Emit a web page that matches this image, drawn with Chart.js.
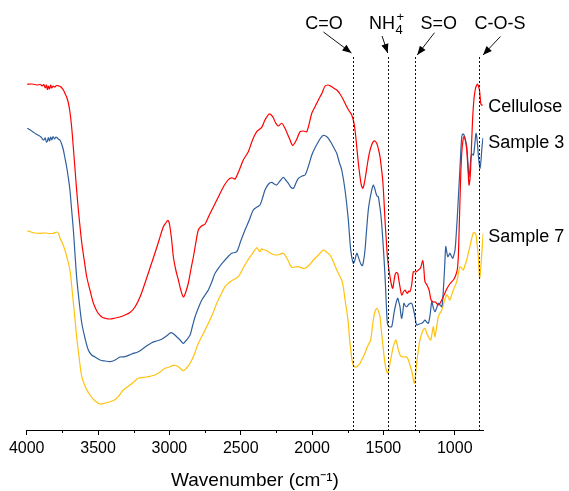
<!DOCTYPE html>
<html>
<head>
<meta charset="utf-8">
<script src="https://cdn.jsdelivr.net/npm/chart.js@4.4.1/dist/chart.umd.min.js"></script>
<style>
html,body{margin:0;padding:0;background:#fff;}
#wrap{width:569px;height:491px;position:relative;}
</style>
</head>
<body>
<div id="wrap"><canvas id="c" width="569" height="491"></canvas></div>
<script>
// ---- Data (wavenumber in cm-1, relative transmittance in arbitrary offset units) ----
const celluloseWn = [3996,3960,3930,3905,3890,3880,3870,3862,3855,3848,3840,3832,3825,3815,3805,3790,3775,3760,3743,3730,3720,3708,3697,3685,3673,3661,3650,3638,3626,3614,3597,3579,3555,3533,3505,3474,3445,3416,3380,3346,3311,3276,3241,3206,3171,3136,3101,3072,3043,3025,3012,3003,2996,2984,2972,2955,2937,2920,2902,2885,2867,2850,2832,2815,2797,2775,2750,2720,2692,2657,2622,2600,2575,2558,2540,2510,2482,2447,2420,2388,2353,2330,2300,2276,2255,2237,2213,2190,2160,2136,2110,2084,2060,2037,2002,1980,1956,1930,1909,1890,1874,1850,1827,1804,1780,1757,1740,1722,1706,1695,1687,1675,1664,1655,1645,1635,1622,1610,1599,1585,1571,1560,1547,1535,1524,1515,1505,1497,1489,1480,1472,1463,1454,1445,1435,1427,1419,1410,1400,1392,1384,1372,1360,1349,1340,1332,1322,1314,1302,1290,1272,1255,1240,1224,1216,1209,1195,1180,1166,1150,1136,1113,1091,1075,1056,1035,1010,998,986,980,975,970,964,958,951,943,935,925,916,908,900,894,888,881,874,866,857,849,841,834,827,822,818,812,804];
const celluloseT = [345.7,346,345,345.5,344,345.5,342,345,340.5,344,341,345,342,344,343,344.5,344,343,340,336,333,327,318,303,282,260,240,220,203,187,170,153,139,127,118,113,111.5,111,112,113,115,117.5,123,133,147,162,177,190,203,207,209.5,208,203,190,173,160,150,140,133,138,147,160,173,187,200,204,206,215,223,233,243,248,251.7,252,251,260,270,278.3,289,298.3,302.7,310,316,313.3,307,304,306.7,301.7,292,284.7,290,298.3,299,298.3,316.7,323,330,337,344,345,344.3,342,340,336,330,323.3,319,315,306.7,295,283.3,266,253.3,245,241.7,246,256.7,268,276.7,284,288.3,289,286.7,281,273.3,263,250,232,210,190,173.3,162,153.3,146,141.7,148,155,157.5,156.7,150,143.3,135,138,140,138,136.7,139,138.3,145,158.3,158,160,162,169.3,160,148.3,145,140,130,128,128,125,130,135,141,146,150,153,158,163,173.3,197,226.7,255,276.7,289,293.3,289,280,262,245,250,263.3,290,313.3,330,340,344,346,344,340,333,326.7,325,325];

const sample3Wn = [3996,3975,3955,3935,3915,3900,3890,3880,3870,3862,3855,3848,3840,3832,3824,3815,3805,3795,3785,3775,3767,3755,3743,3732,3720,3708,3697,3685,3673,3661,3650,3632,3614,3590,3568,3545,3521,3486,3450,3416,3380,3346,3311,3265,3218,3170,3124,3090,3054,3020,2989,2970,2949,2925,2902,2880,2855,2838,2820,2797,2773,2750,2727,2703,2680,2645,2610,2585,2563,2528,2500,2470,2440,2412,2385,2365,2345,2330,2305,2283,2265,2248,2225,2201,2185,2166,2150,2131,2113,2096,2070,2049,2025,2002,1980,1956,1940,1921,1900,1886,1865,1839,1827,1810,1792,1769,1746,1729,1711,1700,1687,1678,1669,1658,1648,1638,1629,1618,1606,1597,1589,1580,1571,1562,1552,1545,1536,1528,1519,1510,1501,1492,1484,1478,1472,1465,1458,1450,1442,1434,1426,1413,1400,1392,1384,1378,1372,1364,1356,1346,1337,1320,1302,1290,1279,1267,1250,1232,1220,1209,1197,1185,1173,1161,1150,1139,1127,1115,1103,1091,1085,1080,1072,1063,1056,1049,1041,1034,1024,1014,1006,998,990,982,975,968,960,951,943,935,925,916,908,900,893,886,878,869,860,851,842,834,828,823,816,809,802];
const sample3T = [301.7,300,298,296,294.5,293,291,290,292,288,289,292.5,289,293,290,293.5,291,293,292,290.5,290,286,280,272,263,252,240,220,200,175,153,128,107,91,80,75,73,70,69,68.3,70,73,73.3,76,78.3,83,87.3,89,90.7,94,97.3,96,93.3,90,86.7,90,95,104,113.3,122,130,135,140,148,156.7,164,170,174,176.7,178.3,189,200,210,220,223,225,233,240,246,247.7,246,245,249,252.7,250,246.7,243,241.7,247,251.7,254,255,264,275,282,288.3,292,294.7,293.5,291.7,287,280,276.7,268,260,240,210,180,166.7,170,176.7,174,170,166,164.3,170,180,200,220,229,235,241,245,242,236.7,234,233.3,226,216.7,202,183.3,162,140,120,106.7,104,103.3,103,103.3,109,116.7,126,131.7,128,123.3,116,111.7,118,126.7,124,123.3,126,126.7,121,113.3,105,106,106.7,108,110,108,106.7,115,128.3,122,118.3,122,126.7,125,123.3,130,140,160,183.3,178,173.3,175,176.7,174,171.7,175,180,195,213.3,232,250,272,293.3,296,295,290,283.3,268,253.3,262,273.3,276,275,285,296.7,288,273.3,266,261.7,270,283.3,292];

const sample7Wn = [3996,3970,3942,3907,3870,3840,3814,3788,3775,3767,3750,3732,3715,3697,3685,3673,3661,3650,3632,3614,3585,3557,3520,3486,3450,3416,3385,3358,3323,3276,3250,3218,3160,3101,3065,3031,3000,2972,2955,2937,2920,2902,2880,2855,2830,2797,2760,2727,2700,2668,2640,2610,2585,2563,2540,2517,2490,2458,2420,2388,2375,2365,2355,2349,2330,2307,2280,2260,2230,2201,2170,2143,2120,2096,2070,2049,2020,1991,1955,1921,1900,1874,1850,1827,1804,1792,1780,1769,1758,1746,1738,1729,1720,1711,1700,1687,1675,1664,1652,1641,1629,1617,1603,1589,1580,1571,1560,1547,1535,1524,1515,1505,1497,1489,1480,1472,1463,1454,1443,1431,1420,1412,1400,1388,1380,1372,1355,1337,1325,1314,1300,1290,1283,1275,1267,1255,1244,1225,1209,1197,1185,1175,1168,1160,1150,1145,1139,1127,1115,1103,1091,1075,1056,1045,1034,1022,1010,998,986,975,964,952,940,928,916,905,894,882,870,860,851,843,835,826,819,812,806,800];
const sample7T = [199.3,198,197,196.7,197,196.5,196.7,198,196,192,187,180,171,160,145,127,110,93.3,72,53.3,42,35,29,26,27,28.3,30,33.3,40,45,48,51.7,53,55,58,61.7,63,64.7,64.5,63.3,61,59.3,62,66.7,74,86.7,97,106.7,115,126.7,135,143.3,147,149.3,151,153.3,160,168.3,176,182.3,180,178.3,181,180.7,180,178.3,176,175,175.5,176.7,170,162.7,163,163.3,162,161.7,165,170,175,180,178,175,168,160,153.3,150,142,130,120,106.7,92,80,70,65,63,63.3,65,66.7,70,73.3,77,81.7,86,90,100,110,118,121.7,119,113.3,100,86.7,76,66.7,60,56.7,60,66.7,75,83.3,88,90,83,76.7,74,73.3,73,73,70,65,58,50,46.7,55,66.7,80,90,99,101.7,97,93.3,91,90,96,103.3,98,93.3,103,113.3,117,120,128,135,133,130,135,140,144,148.3,156,163.3,162,160,165,170,177,183.3,191,197.3,197,195,185,173.3,151.7,160,173.3,186,196.7];

const seriesNames = ['Cellulose','Sample 3','Sample 7'];
const seriesColors = ['#ff0000','#2f5f9c','#ffc20e'];
const seriesLabelT = [325, 288.3, 194.3];   // label anchor (value units)

const majorTicks = [4000,3500,3000,2500,2000,1500,1000];
const minorTicks = [3750,3250,2750,2250,1750,1250];

const peakLabels = ['C=O','NH4+','S=O','C-O-S'];
const peakWn = [1710,1470,1280,830];

const xMin = 800, xMax = 4000, yMin = 0, yMax = 380;

// ---- Build chart ----
Chart.defaults.font.family = "'Liberation Sans', Arial, Helvetica, sans-serif";
Chart.defaults.color = '#000';

function pts(wn, t){ return wn.map((w,i)=>({x:w, y:t[i]})); }

const annot = {
  id:'annot',
  afterDraw(chart){
    const ctx = chart.ctx, xs = chart.scales.x, ys = chart.scales.y, ca = chart.chartArea;
    ctx.save();
    // minor ticks
    ctx.strokeStyle = '#000'; ctx.lineWidth = 1;
    minorTicks.forEach(v=>{
      const px = Math.round(xs.getPixelForValue(v)) + 0.5;
      ctx.beginPath(); ctx.moveTo(px, ca.bottom); ctx.lineTo(px, ca.bottom + 3); ctx.stroke();
    });
    // dashed lines
    const lineTop = ys.getPixelForValue(373);
    ctx.setLineDash([2,2]);
    ctx.strokeStyle = '#111';
    peakWn.forEach(w=>{
      const px = Math.round(xs.getPixelForValue(w)) + 0.5;
      ctx.beginPath(); ctx.moveTo(px, lineTop); ctx.lineTo(px, ca.bottom); ctx.stroke();
    });
    ctx.setLineDash([]);
    // arrows and texts
    const cfg = [
      {tdx:-29.5, sx:-30, sy:-25, ex:-2, ey:-4},
      {tdx:-1.5, sx:-5.6, sy:-21, ex:0, ey:-4},
      {tdx:24, sx:19.7, sy:-24.3, ex:2.4, ey:-2},
      {tdx:21, sx:21.4, sy:-20.5, ex:4, ey:-2}
    ];
    const baseY = lineTop - 27.7;
    ctx.fillStyle = '#000';
    peakWn.forEach((w,i)=>{
      const px = xs.getPixelForValue(w);
      const c = cfg[i];
      const x1 = px + c.sx, y1 = lineTop + c.sy, x2 = px + c.ex, y2 = lineTop + c.ey;
      ctx.beginPath(); ctx.moveTo(x1,y1); ctx.lineTo(x2,y2); ctx.stroke();
      const ang = Math.atan2(y2-y1, x2-x1), L = 9, H = 3.6;
      ctx.beginPath();
      ctx.moveTo(x2,y2);
      ctx.lineTo(x2 - L*Math.cos(ang) + H*Math.sin(ang), y2 - L*Math.sin(ang) - H*Math.cos(ang));
      ctx.lineTo(x2 - L*Math.cos(ang) - H*Math.sin(ang), y2 - L*Math.sin(ang) + H*Math.cos(ang));
      ctx.closePath(); ctx.fill();
      // text
      ctx.textBaseline = 'alphabetic';
      const cx = px + c.tdx;
      if (peakLabels[i] === 'NH4+') {
        ctx.font = "18px 'Liberation Sans', Arial, sans-serif";
        const wNH = ctx.measureText('NH').width;
        ctx.font = "13px 'Liberation Sans', Arial, sans-serif";
        const w4 = ctx.measureText('4').width, wp = ctx.measureText('+').width;
        const total = wNH + Math.max(w4, wp) + 1;
        let x0 = cx - total/2;
        ctx.textAlign = 'left';
        ctx.font = "18px 'Liberation Sans', Arial, sans-serif";
        ctx.fillText('NH', x0, baseY);
        ctx.font = "13px 'Liberation Sans', Arial, sans-serif";
        ctx.fillText('4', x0 + wNH + 0.5, baseY + 5);
        ctx.fillText('+', x0 + wNH + 1.5, baseY - 8);
      } else {
        ctx.font = "18px 'Liberation Sans', Arial, sans-serif";
        ctx.textAlign = 'center';
        ctx.fillText(peakLabels[i], cx, baseY);
      }
    });
    // series labels
    ctx.font = "18px 'Liberation Sans', Arial, sans-serif";
    ctx.textAlign = 'left'; ctx.textBaseline = 'alphabetic';
    seriesNames.forEach((n,i)=>{
      ctx.fillText(n, ca.right + 5, ys.getPixelForValue(seriesLabelT[i]) + 6.5);
    });
    ctx.restore();
  }
};

new Chart(document.getElementById('c'), {
  type:'line',
  data:{
    datasets:[
      {label:seriesNames[0], data:pts(celluloseWn, celluloseT), borderColor:seriesColors[0]},
      {label:seriesNames[1], data:pts(sample3Wn, sample3T), borderColor:seriesColors[1]},
      {label:seriesNames[2], data:pts(sample7Wn, sample7T), borderColor:seriesColors[2]}
    ].map(d=>Object.assign(d,{borderWidth:1.2, pointRadius:0, tension:0.3, fill:false}))
  },
  options:{
    responsive:false, animation:false, devicePixelRatio:1,
    layout:{padding:{left:26.7, right:85.7, top:50, bottom:0}},
    plugins:{legend:{display:false}, tooltip:{enabled:false}},
    scales:{
      x:{
        type:'linear', reverse:true, min:xMin, max:xMax,
        afterBuildTicks: s=>{ s.ticks = majorTicks.map(v=>({value:v})); },
        afterFit: s=>{ s.height = 61; },
        grid:{display:true, drawOnChartArea:false, drawTicks:true, tickLength:5, color:'#000', lineWidth:1},
        border:{display:true, color:'#000', width:1},
        ticks:{font:{size:16}, color:'#000', padding:4, maxRotation:0, autoSkip:false, callback:v=>String(v)},
        title:{display:true, text:'Wavenumber (cm\u207B\u00B9)', font:{size:19, lineHeight:1}, color:'#000', padding:{top:0,bottom:1}}
      },
      y:{display:false, min:yMin, max:yMax}
    }
  },
  plugins:[annot]
});
</script>
</body>
</html>
